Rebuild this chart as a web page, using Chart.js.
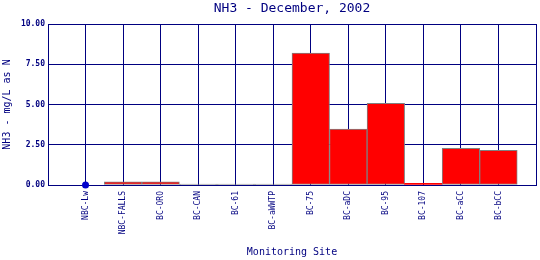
<!DOCTYPE html>
<html>
<head>
<meta charset="utf-8">
<script src="https://cdn.jsdelivr.net/npm/chart.js@4/dist/chart.umd.min.js"></script>
<style>
    html, body { margin: 0; padding: 0; background: #fff; }
    #wrap { width: 540px; height: 260px; }
</style>
</head>
<body>
<div id="wrap"><canvas id="chart"></canvas></div>
<script>
const sites = ['NBC-Lw', 'NBC-FALLS', 'BC-ORO', 'BC-CAN', 'BC-61', 'BC-aWWTP', 'BC-75', 'BC-aDC', 'BC-95', 'BC-107', 'BC-aCC', 'BC-bCC'];
const nh3Values = [null, 0.2, 0.2, 0, 0, 0, 8.2, 3.48, 5.07, 0.1, 2.27, 2.15];
const belowDetect = [0, null, null, null, null, null, null, null, null, null, null, null];
const yTicks = [0, 2.5, 5, 7.5, 10];

const navy = '#000080';
const gray = '#808080';
const mono = 'DejaVu Sans Mono';

// blank slot on each side so the sites sit on gridlines with a full gap at the edges
const labels = ['', ...sites, ''];
const pad = (arr) => [null, ...arr, null];

function noSidePadding(scale) {
    scale.paddingLeft = 0;
    scale.paddingRight = 0;
}

new Chart(document.getElementById('chart'), {
    data: {
        labels,
        datasets: [
            {
                type: 'line',
                data: pad(belowDetect),
                showLine: false,
                clip: false,
                pointRadius: 3.5,
                pointBackgroundColor: '#0000cc',
                pointBorderColor: '#0000cc',
                pointBorderWidth: 0,
            },
            {
                type: 'bar',
                data: pad(nh3Values),
                backgroundColor: (ctx) => (ctx.raw === 0 ? gray : '#ff0000'),
                borderColor: gray,
                borderWidth: (ctx) => (ctx.raw > 0 && ctx.raw < 0.15 ? 0 : 1),
                borderSkipped: false,
                barPercentage: 1,
                categoryPercentage: 1,
                minBarLength: 1,
            },
        ],
    },
    options: {
        responsive: true,
        maintainAspectRatio: false,
        animation: false,
        layout: { padding: { left: 0, right: 3, top: 0, bottom: 0 } },
        plugins: {
            legend: { display: false },
            tooltip: { enabled: false },
        },
        scales: {
            x: {
                type: 'category',
                offset: false,
                grid: { offset: false, color: navy, lineWidth: 1, drawTicks: false },
                border: { color: navy, width: 1 },
                ticks: {
                    autoSkip: false,
                    minRotation: 90,
                    maxRotation: 90,
                    padding: 6,
                    color: navy,
                    font: { family: mono, size: 8 },
                },
                title: {
                    display: true,
                    text: 'Monitoring Site',
                    color: navy,
                    font: { family: mono, size: 10 },
                    padding: { top: 0, bottom: 1.5 },
                },
                afterFit(scale) {
                    scale.height = 75;
                    noSidePadding(scale);
                },
            },
            xTop: {
                type: 'category',
                position: 'top',
                offset: false,
                grid: { display: false },
                border: { display: false },
                ticks: { display: false },
                title: {
                    display: true,
                    text: 'NH3 - December, 2002',
                    color: navy,
                    font: { family: mono, size: 13 },
                    padding: { top: 0.5, bottom: 0 },
                },
                afterFit(scale) {
                    scale.height = 24;
                    noSidePadding(scale);
                },
            },
            y: {
                min: 0,
                max: 10,
                grid: { color: navy, lineWidth: 1, drawTicks: false },
                border: { color: navy, width: 1 },
                afterBuildTicks(scale) {
                    scale.ticks = yTicks.map((v) => ({ value: v }));
                },
                ticks: {
                    padding: 3,
                    color: navy,
                    font: { family: mono, size: 8, weight: 'bold' },
                    callback: (v) => Number(v).toFixed(2),
                },
                title: {
                    display: true,
                    text: 'NH3 - mg/L as N',
                    color: navy,
                    font: { family: mono, size: 10 },
                    padding: { top: 1.5, bottom: 0 },
                },
                afterFit(scale) {
                    scale.width = 48;
                },
            },
        },
    },
});
</script>
</body>
</html>
